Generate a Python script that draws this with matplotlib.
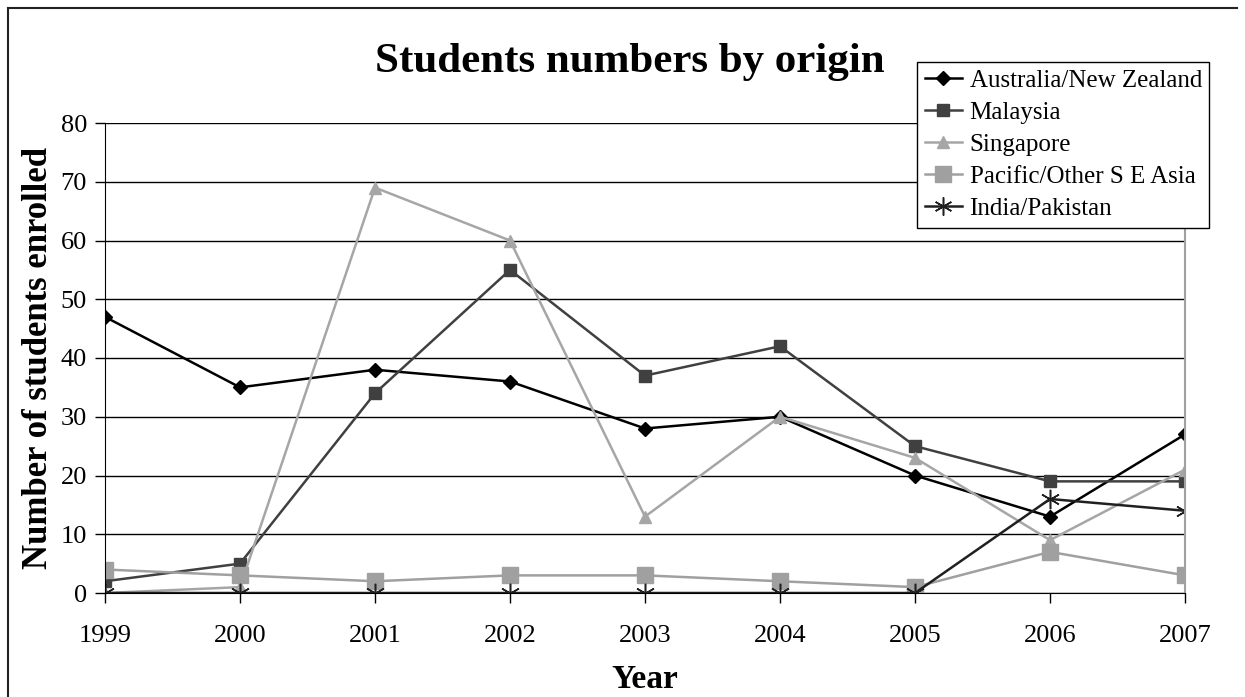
import matplotlib
matplotlib.use("Agg")
import matplotlib.pyplot as plt
from matplotlib.lines import Line2D

# chart data
years = [1999, 2000, 2001, 2002, 2003, 2004, 2005, 2006, 2007]
australia_nz = [47, 35, 38, 36, 28, 30, 20, 13, 27]
malaysia = [2, 5, 34, 55, 37, 42, 25, 19, 19]
singapore = [0, 1, 69, 60, 13, 30, 23, 9, 21]
pacific_sea = [4, 3, 2, 3, 3, 2, 1, 7, 3]
india_pakistan = [0, 0, 0, 0, 0, 0, 0, 16, 14]

plt.rcParams["font.family"] = ["Liberation Serif", "DejaVu Serif"]

fig = plt.figure(figsize=(12.45, 6.97), dpi=100)
ax = fig.add_axes([105 / 1245, 1 - 593 / 697, 1080 / 1245, 470 / 697])

star = (6, 2, 0)
ax.plot(years, australia_nz, color="black", marker="D", markersize=7.5, lw=1.8, label="Australia/New Zealand")
ax.plot(years, malaysia, color="#404040", marker="s", markersize=8, lw=1.8, label="Malaysia")
ax.plot(years, singapore, color="#a6a6a6", marker="^", markersize=8, lw=1.8, label="Singapore")
ax.plot(years, pacific_sea, color="#a0a0a0", marker="s", markersize=11.5, lw=1.8, label="Pacific/Other S E Asia")
ax.plot(years, india_pakistan, color="#202020", marker=star, markersize=14, mew=1.1, lw=1.8, label="India/Pakistan")

ax.set_xlim(1999, 2007)
ax.set_ylim(0, 80)
ax.set_xticks(years)
ax.set_yticks(range(0, 81, 10))
ax.yaxis.grid(True, color="black", lw=1)
ax.set_axisbelow(True)
for lbl in ax.get_xticklabels() + ax.get_yticklabels():
    lbl.set_fontsize(19)
ax.tick_params(axis="both", direction="out", length=7, width=1, colors="black")
ax.tick_params(axis="x", pad=16)
ax.tick_params(axis="y", pad=6)

ax.spines["top"].set_visible(False)
ax.spines["right"].set_color("#a0a0a0")
ax.spines["right"].set_linewidth(1.5)
ax.spines["left"].set_color("black")
ax.spines["bottom"].set_color("black")

ax.set_xlabel("Year", fontsize=24, fontweight="bold", labelpad=12)
ax.set_ylabel("Number of students enrolled", fontsize=25, fontweight="bold", labelpad=4)
fig.text(0.506, 1 - 62 / 697, "Students numbers by origin", fontsize=31, fontweight="bold", ha="center", va="center")

handles = [
    Line2D([], [], color="black", marker="D", markersize=7, lw=1.8),
    Line2D([], [], color="#404040", marker="s", markersize=8, lw=1.8),
    Line2D([], [], color="#a6a6a6", marker="^", markersize=8, lw=1.8),
    Line2D([], [], color="#a0a0a0", marker="s", markersize=11, lw=1.8),
    Line2D([], [], color="#202020", marker=star, markersize=13, mew=1.1, lw=1.8),
]
labels = ["Australia/New Zealand", "Malaysia", "Singapore", "Pacific/Other S E Asia", "India/Pakistan"]
leg = fig.legend(handles, labels, loc="upper left", bbox_to_anchor=(917 / 1245, 1 - 62 / 697),
                 fontsize=18, frameon=True, fancybox=False, edgecolor="black", framealpha=1,
                 handlelength=1.5, handletextpad=0.3, borderpad=0.3, labelspacing=0.38,
                 borderaxespad=0)
leg.get_frame().set_linewidth(1)

# outer frame (top and left edges)
fig.add_artist(Line2D([8 / 1245, 1237 / 1245], [1 - 8 / 697, 1 - 8 / 697], color="#222222", lw=1.5))
fig.add_artist(Line2D([8 / 1245, 8 / 1245], [0, 1 - 8 / 697], color="#222222", lw=1.5))

fig.savefig("out.png", dpi=100)
